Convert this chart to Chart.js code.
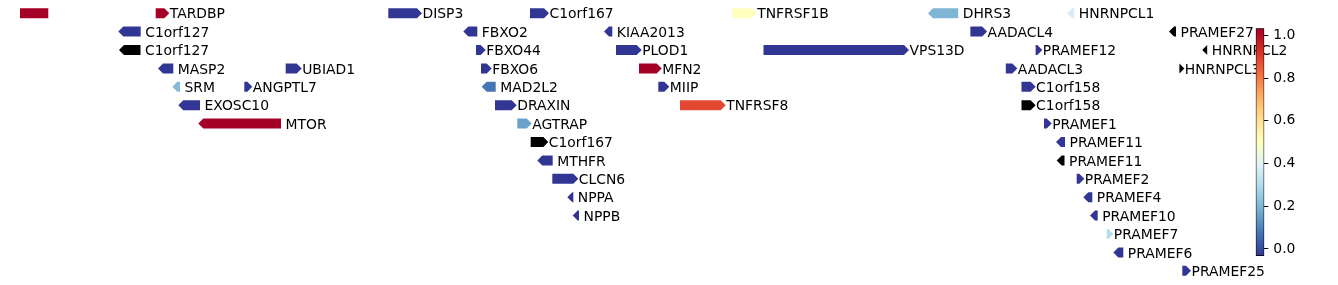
<!DOCTYPE html>
<html>
<head>
<meta charset="utf-8">
<script src="https://cdn.jsdelivr.net/npm/chart.js@4"></script>
<style>
  body { margin: 0; background: #fff; }
  #wrap { position: relative; width: 1338px; height: 285px; }
  #genes { position: absolute; left: 0; top: 0; }
  #cbar { position: absolute; left: 1240px; top: 0; }
</style>
</head>
<body>
<div id="wrap">
  <canvas id="genes" width="1338" height="285"></canvas>
  <canvas id="cbar" width="98" height="285"></canvas>
</div>
<script>
// Gene track data (positions, track units)
const geneNames = [
  "", "TARDBP", "DISP3", "C1orf167", "TNFRSF1B", "DHRS3", "HNRNPCL1",
  "C1orf127", "FBXO2", "KIAA2013", "AADACL4", "PRAMEF27",
  "C1orf127", "FBXO44", "PLOD1", "VPS13D", "PRAMEF12", "HNRNPCL2",
  "MASP2", "UBIAD1", "FBXO6", "MFN2", "AADACL3", "HNRNPCL3",
  "SRM", "ANGPTL7", "MAD2L2", "MIIP", "C1orf158",
  "EXOSC10", "DRAXIN", "TNFRSF8", "C1orf158",
  "MTOR", "AGTRAP", "PRAMEF1",
  "C1orf167", "PRAMEF11",
  "MTHFR", "PRAMEF11",
  "CLCN6", "PRAMEF2",
  "NPPA", "PRAMEF4",
  "NPPB", "PRAMEF10",
  "PRAMEF7",
  "PRAMEF6",
  "PRAMEF25",
];
const geneStart = [
  -10, 155.7, 388.3, 530, 732.3, 928, 1067.2,
  118.3, 463.3, 604, 970.4, 1169,
  119, 476, 616, 763.5, 1035.6, 1202.2,
  158, 285.7, 481, 639, 1005.8, 1179.4,
  172.3, 244.3, 481.7, 658.3, 1021.5,
  178.3, 495, 680, 1021.5,
  198.3, 517.3, 1044,
  530.7, 1056,
  537.3, 1056.7,
  552.3, 1076.7,
  567.3, 1083.3,
  572.7, 1090,
  1106.7,
  1113.3,
  1182.3,
];
const geneEnd = [
  48.3, 169.3, 422, 549, 756.7, 958.2, 1074.3,
  140.7, 477.3, 612.3, 987.1, 1176,
  140.5, 485.7, 641.7, 909, 1042.3, 1207.2,
  173.3, 301.7, 491.7, 661.7, 1017.3, 1184.3,
  180, 252.3, 495.7, 669.3, 1035.6,
  200, 516.7, 725.7, 1035.6,
  281, 531.7, 1051.7,
  548.3, 1065,
  552.7, 1064.5,
  578.3, 1084.3,
  573.3, 1092.3,
  579, 1097.7,
  1113.3,
  1123.3,
  1191,
];
const geneStrand = [
  -1, 1, 1, 1, 1, -1, -1,
  -1, -1, -1, 1, -1,
  -1, 1, 1, 1, 1, -1,
  -1, 1, 1, 1, 1, 1,
  -1, 1, -1, 1, 1,
  -1, 1, 1, 1,
  -1, 1, 1,
  1, -1,
  -1, -1,
  1, 1,
  -1, -1,
  -1, -1,
  1,
  -1,
  1,
];
const geneRow = [
  0, 0, 0, 0, 0, 0, 0,
  1, 1, 1, 1, 1,
  2, 2, 2, 2, 2, 2,
  3, 3, 3, 3, 3, 3,
  4, 4, 4, 4, 4,
  5, 5, 5, 5,
  6, 6, 6,
  7, 7,
  8, 8,
  9, 9,
  10, 10,
  11, 11,
  12,
  13,
  14,
];
// colour value per gene, null = no value (drawn black)
const geneScore = [
  1.0, 1.0, 0, 0, 0.5, 0.22, 0.38,
  0, 0, 0, 0, null,
  null, 0, 0, 0, 0, null,
  0, 0, 0, 1.0, 0, null,
  0.23, 0, 0.1, 0, 0,
  0, 0, 0.86, null,
  1.0, 0.18, 0,
  null, 0,
  0, null,
  0, 0,
  0, 0,
  0, 0,
  0.32,
  0,
  0,
];

// colorbar
const cbMin = -0.033;
const cbMax = 1.033;
const cbTicks = [0, 0.2, 0.4, 0.6, 0.8, 1.0];

const labelFont = '13.9px "DejaVu Sans"';
const headLen = 5;

// RdYlBu reversed
const rdylbuR = [
  "#313695", "#4575b4", "#74add1", "#abd9e9", "#e0f3f8", "#ffffbf",
  "#fee090", "#fdae61", "#f46d43", "#d73027", "#a50026",
];

const hexToRgb = (h) => [1, 3, 5].map((k) => parseInt(h.slice(k, k + 2), 16));

const cmap = (t) => {
  t = Math.max(0, Math.min(1, t));
  const pos = t * (rdylbuR.length - 1);
  const i = Math.min(Math.floor(pos), rdylbuR.length - 2);
  const f = pos - i;
  const a = hexToRgb(rdylbuR[i]);
  const b = hexToRgb(rdylbuR[i + 1]);
  const c = a.map((v, k) => Math.round(v + (b[k] - v) * f));
  return `rgb(${c[0]},${c[1]},${c[2]})`;
};

const geneColor = (v) => (v === null ? "#000000" : cmap(v));

// Draw arrows + labels on the (invisible) floating bars
const geneArrows = {
  id: "geneArrows",
  afterDatasetsDraw(chart) {
    const ctx = chart.ctx;
    const area = chart.chartArea;
    const bars = chart.getDatasetMeta(0).data;

    ctx.save();
    ctx.beginPath();
    ctx.rect(area.left, 0, area.right - area.left, chart.height);
    ctx.clip();
    bars.forEach((bar, i) => {
      const x0 = Math.min(bar.base, bar.x);
      const x1 = Math.max(bar.base, bar.x);
      const half = bar.height / 2;
      const top = bar.y - half;
      const bot = bar.y + half;
      const head = Math.min(headLen, x1 - x0);
      ctx.fillStyle = geneColor(geneScore[i]);
      ctx.beginPath();
      if (geneStrand[i] > 0) {
        ctx.moveTo(x0, top);
        ctx.lineTo(x1 - head, top);
        ctx.lineTo(x1, bar.y);
        ctx.lineTo(x1 - head, bot);
        ctx.lineTo(x0, bot);
      } else {
        ctx.moveTo(x1, top);
        ctx.lineTo(x0 + head, top);
        ctx.lineTo(x0, bar.y);
        ctx.lineTo(x0 + head, bot);
        ctx.lineTo(x1, bot);
      }
      ctx.closePath();
      ctx.fill();
    });
    ctx.restore();

    // labels
    ctx.save();
    ctx.font = labelFont;
    ctx.fillStyle = "#000";
    ctx.textAlign = "left";
    ctx.textBaseline = "alphabetic";
    bars.forEach((bar, i) => {
      if (!geneNames[i]) return;
      const x1 = Math.max(bar.base, bar.x);
      const gap = geneStrand[i] > 0 ? 0.5 : 4.5;
      ctx.fillText(geneNames[i], x1 + gap, bar.y + 5.1);
    });
    ctx.restore();
  },
};

const geneData = geneNames.map((n, i) => ({
  x: [geneStart[i], geneEnd[i]],
  y: geneRow[i],
}));

new Chart(document.getElementById("genes"), {
  type: "bar",
  data: {
    datasets: [
      {
        data: geneData,
        backgroundColor: "rgba(0,0,0,0)",
        borderWidth: 0,
        barThickness: 10,
      },
    ],
  },
  options: {
    indexAxis: "y",
    responsive: false,
    animation: false,
    devicePixelRatio: 1,
    layout: { padding: { left: 20, right: 82, top: 4, bottom: 5 } },
    scales: {
      x: { type: "linear", min: 20, max: 1256, display: false },
      y: {
        type: "linear",
        min: -0.5,
        max: 14.5,
        reverse: true,
        offset: false,
        display: false,
      },
    },
    plugins: { legend: { display: false }, tooltip: { enabled: false } },
  },
  plugins: [geneArrows],
});

// Colorbar chart
const cbGradient = (context) => {
  const { chart } = context;
  const area = chart.chartArea;
  if (!area) return "#888";
  const g = chart.ctx.createLinearGradient(0, area.bottom, 0, area.top);
  for (let k = 0; k <= 20; k++) {
    g.addColorStop(k / 20, cmap(k / 20));
  }
  return g;
};

new Chart(document.getElementById("cbar"), {
  type: "bar",
  data: {
    labels: [""],
    datasets: [
      {
        data: [[cbMin, cbMax]],
        backgroundColor: cbGradient,
        borderColor: "#000",
        borderWidth: 1,
        borderSkipped: false,
        barPercentage: 1,
        categoryPercentage: 1,
      },
    ],
  },
  options: {
    responsive: false,
    animation: false,
    devicePixelRatio: 1,
    layout: { padding: { left: 15.7, right: 33.7, top: 28.3, bottom: 29 } },
    scales: {
      x: { display: false },
      y: {
        position: "right",
        min: cbMin,
        max: cbMax,
        afterFit: (s) => {
          s.width = 40;
        },
        afterBuildTicks: (s) => {
          s.ticks = cbTicks.map((v) => ({ value: v }));
        },
        ticks: {
          callback: (v) => Number(v).toFixed(1),
          color: "#000",
          font: { family: "DejaVu Sans", size: 13.9 },
          padding: 5,
        },
        grid: { drawOnChartArea: false, tickLength: 4, color: "#000" },
        border: { display: false },
      },
    },
    plugins: { legend: { display: false }, tooltip: { enabled: false } },
  },
});
</script>
</body>
</html>
